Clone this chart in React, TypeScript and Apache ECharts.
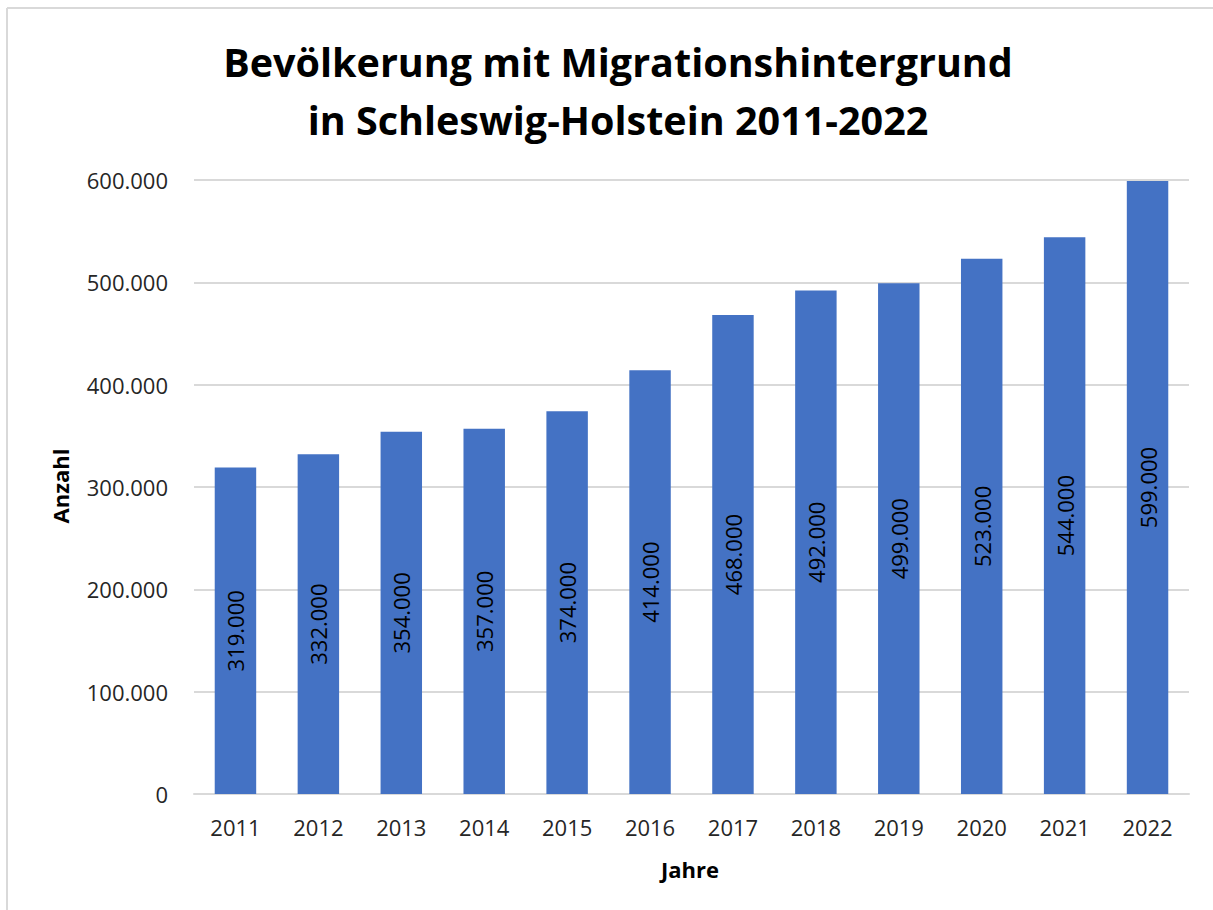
import React, { useEffect, useRef } from "react";
import * as echarts from "echarts";

const years = ["2011", "2012", "2013", "2014", "2015", "2016", "2017", "2018", "2019", "2020", "2021", "2022"];
const values = [319000, 332000, 354000, 357000, 374000, 414000, 468000, 492000, 499000, 523000, 544000, 599000];
const titleLines = ["Bevölkerung mit Migrationshintergrund", "in Schleswig-Holstein 2011-2022"];
const xName = "Jahre";
const yName = "Anzahl";

const FONT = "Open Sans";
const fmt = (v: number) => String(Math.round(v)).replace(/\B(?=(\d{3})+(?!\d))/g, ".");

export default function App() {
  const ref = useRef<HTMLDivElement>(null);
  useEffect(() => {
    if (!ref.current) return;
    const chart = echarts.init(ref.current, null, { renderer: "svg" });
    chart.setOption({
      animation: false,
      backgroundColor: "#ffffff",
      textStyle: { fontFamily: FONT },
      title: {
        text: titleLines.join("\n"),
        left: 613,
        top: 28,
        textAlign: "center",
        textStyle: { fontFamily: FONT, fontWeight: "bold", fontSize: 39.5, lineHeight: 58, color: "#000000" },
      },
      grid: { left: 194, top: 180, width: 995, height: 614, containLabel: false },
      xAxis: {
        type: "category",
        data: years,
        axisLine: { show: true, lineStyle: { color: "#d9d9d9", width: 2 } },
        axisTick: { show: false },
        axisLabel: { color: "#262626", fontSize: 22, fontFamily: FONT, margin: 22 },
      },
      yAxis: {
        type: "value",
        min: 0,
        max: 600000,
        interval: 100000,
        axisLine: { show: false },
        axisTick: { show: false },
        splitLine: { lineStyle: { color: "#d9d9d9", width: 2 } },
        axisLabel: { color: "#262626", fontSize: 22, fontFamily: FONT, margin: 26, formatter: (v: number) => fmt(v) },
      },
      graphic: [
        { type: "line", shape: { x1: 7, y1: 8, x2: 1213, y2: 8 }, style: { stroke: "#d9d9d9", lineWidth: 2 } },
        { type: "line", shape: { x1: 7, y1: 8, x2: 7, y2: 910 }, style: { stroke: "#d9d9d9", lineWidth: 2 } },
        {
          type: "text",
          x: 690,
          y: 869,
          style: { text: xName, fontFamily: FONT, fontWeight: "bold", fontSize: 22, fill: "#000000", align: "center", verticalAlign: "middle" },
        },
        {
          type: "text",
          x: 60,
          y: 486,
          rotation: Math.PI / 2,
          style: { text: yName, fontFamily: FONT, fontWeight: "bold", fontSize: 22, fill: "#000000", align: "center", verticalAlign: "middle" },
        },
      ],
      series: [
        {
          type: "bar",
          data: values,
          barCategoryGap: "50%",
          itemStyle: { color: "#4472C4" },
          label: {
            show: true,
            position: "inside",
            rotate: 90,
            color: "#000000",
            fontSize: 22,
            fontFamily: FONT,
            formatter: (p: any) => fmt(p.value),
          },
        },
      ],
    });
    return () => chart.dispose();
  }, []);
  return <div ref={ref} style={{ position: "fixed", left: 0, top: 0, width: 1213, height: 910 }} />;
}
